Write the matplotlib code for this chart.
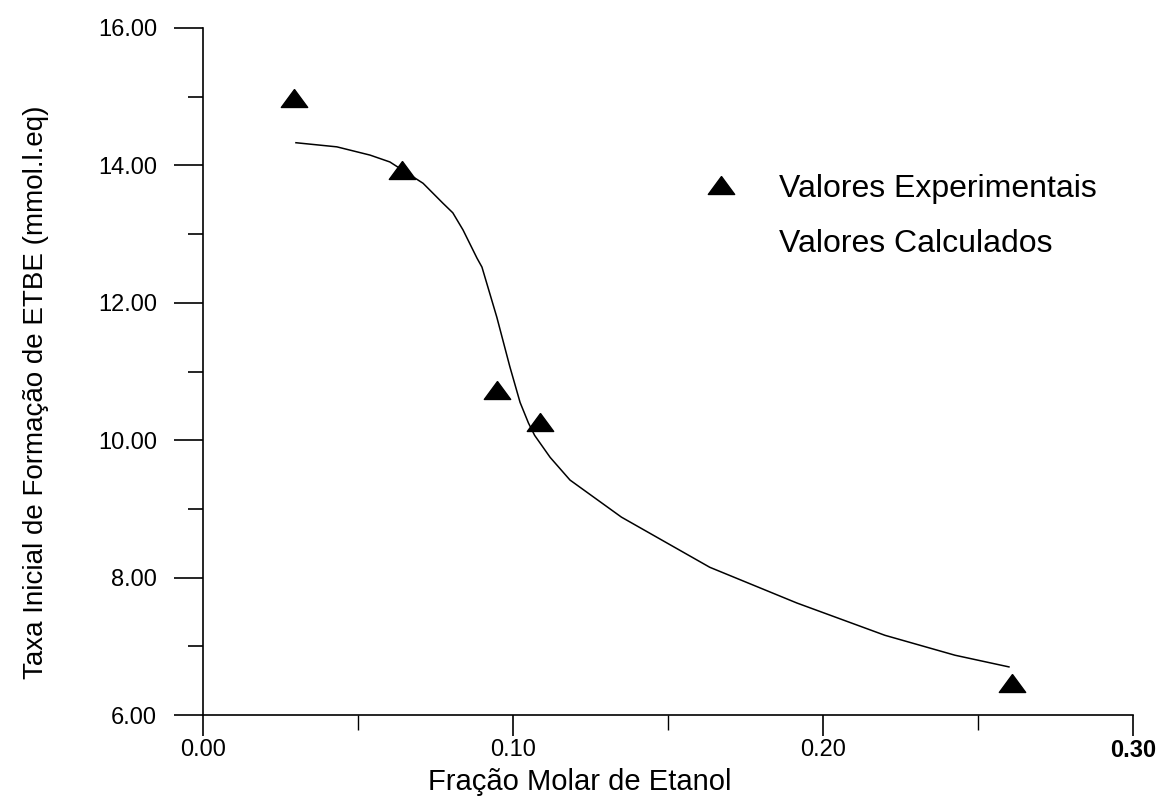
import matplotlib
matplotlib.use('Agg')
import matplotlib.pyplot as plt
from matplotlib.lines import Line2D
from matplotlib.ticker import MultipleLocator, FormatStrFormatter

plt.rcParams['font.family'] = ['Liberation Sans', 'DejaVu Sans']

# experimental points
x_exp = [0.0294, 0.0642, 0.0948, 0.1087, 0.2610]
y_exp = [14.98, 13.93, 10.73, 10.26, 6.47]

# calculated curve
x_calc = [0.0300, 0.0432, 0.0539, 0.0603, 0.0710, 0.0774, 0.0806, 0.0839, 0.0884, 0.0900,
          0.0948, 0.0990, 0.1023, 0.1050, 0.1070, 0.1120, 0.1184, 0.1350, 0.1635, 0.1916,
          0.2200, 0.2426, 0.2600]
y_calc = [14.33, 14.27, 14.15, 14.05, 13.74, 13.45, 13.31, 13.06, 12.65, 12.52,
          11.79, 11.07, 10.55, 10.25, 10.07, 9.75, 9.42, 8.88, 8.15, 7.63,
          7.16, 6.87, 6.70]

x_ticks = [0.00, 0.10, 0.20, 0.30]
y_ticks = [6, 8, 10, 12, 14, 16]

# wide, flat triangle like the scanned original
tri = [(0, 0.68), (-1, -0.68), (1, -0.68), (0, 0.68)]

fig = plt.figure(figsize=(11.65, 8), dpi=100)
ax = fig.add_axes([0.1742, 0.10625, 0.7983, 0.85875])

ax.plot(x_calc, y_calc, color='black', lw=1.1, solid_joinstyle='round')
ax.plot(x_exp, y_exp, ls='none', marker=tri, ms=19, color='black')

ax.set_xlim(0, 0.30)
ax.set_ylim(6, 16)
ax.set_xticks(x_ticks)
ax.set_yticks(y_ticks)
ax.xaxis.set_minor_locator(MultipleLocator(0.05))
ax.yaxis.set_minor_locator(MultipleLocator(1))
ax.xaxis.set_major_formatter(FormatStrFormatter('%.2f'))
ax.yaxis.set_major_formatter(FormatStrFormatter('%.2f'))

for side in ['top', 'right']:
    ax.spines[side].set_visible(False)
for side in ['left', 'bottom']:
    ax.spines[side].set_linewidth(1.2)

ax.tick_params(axis='y', which='major', direction='out', length=21, width=1.2,
               pad=12, labelsize=17)
ax.tick_params(axis='y', which='minor', direction='out', length=11, width=1.2)
ax.tick_params(axis='x', which='major', direction='out', length=15, width=1.2,
               pad=2, labelsize=17)
ax.tick_params(axis='x', which='minor', direction='out', length=11, width=1.0)
ax.get_xticklabels()[-1].set_fontweight('bold')

ax.set_xlabel('Fração Molar de Etanol', fontsize=21)
ax.xaxis.set_label_coords(0.405, -0.077)
ax.set_ylabel('Taxa Inicial de Formação de ETBE (mmol.l.eq)', fontsize=20)
ax.yaxis.set_label_coords(-0.166, 0.47)

handles = [Line2D([], [], ls='none', marker=tri, ms=19, color='black'),
           Line2D([], [], ls='none')]
ax.legend(handles, ['Valores Experimentais', 'Valores Calculados'],
          loc='upper left', bbox_to_anchor=(0.506, 0.83), frameon=False,
          fontsize=23, handlelength=1.2, handletextpad=1.2, labelspacing=0.8)

fig.savefig('out.png', dpi=100)
